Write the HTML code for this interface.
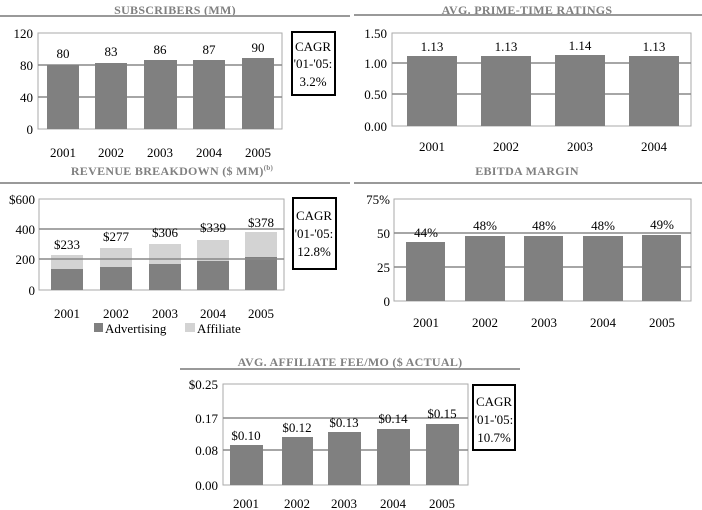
<!DOCTYPE html>
<html><head><meta charset="utf-8"><style>
html,body{margin:0;padding:0;background:#fff;}
svg{display:block;font-family:"Liberation Serif",serif;}
.t{font-size:12px;font-weight:bold;fill:#808080;text-anchor:middle;letter-spacing:0.3px}
.l{font-size:13px;fill:#000;text-anchor:middle}
.y{font-size:13px;fill:#000;text-anchor:end}
.g{stroke:#888;stroke-width:1.5}
.f{fill:none;stroke:#aaa;stroke-width:1}
.b{fill:#808080}
.a{fill:#d3d3d3}
.h{stroke:#999;stroke-width:2}
</style></head><body>
<svg width="702" height="510" viewBox="0 0 702 510">
<!-- Chart 1 -->
<text class="t" x="175" y="14">SUBSCRIBERS (MM)</text>
<line class="h" x1="0" y1="16" x2="350" y2="16"/>
<rect class="f" x="38" y="33" width="244" height="96"/>
<line class="g" x1="38" y1="65" x2="282" y2="65"/>
<line class="g" x1="38" y1="97" x2="282" y2="97"/>
<rect class="b" x="47" y="65" width="32" height="64"/>
<rect class="b" x="95" y="63" width="32" height="66"/>
<rect class="b" x="144" y="60" width="33" height="69"/>
<rect class="b" x="193" y="60" width="32" height="69"/>
<rect class="b" x="242" y="58" width="32" height="71"/>
<text class="l" x="63" y="58">80</text><text class="l" x="111" y="56">83</text><text class="l" x="160" y="54">86</text><text class="l" x="209" y="54">87</text><text class="l" x="258" y="52">90</text>
<text class="y" x="33" y="38">120</text><text class="y" x="33" y="70">80</text><text class="y" x="33" y="102">40</text><text class="y" x="33" y="134">0</text>
<text class="l" x="63" y="157">2001</text><text class="l" x="111" y="157">2002</text><text class="l" x="160" y="157">2003</text><text class="l" x="209" y="157">2004</text><text class="l" x="258" y="157">2005</text>
<rect x="292" y="32" width="43" height="63" fill="#fff" stroke="#000" stroke-width="2"/>
<text class="l" x="313" y="51">CAGR</text><text class="l" x="313" y="68">'01-'05:</text><text class="l" x="313" y="86">3.2%</text>

<!-- Chart 2 -->
<text class="t" x="527" y="14">AVG. PRIME-TIME RATINGS</text>
<line class="h" x1="354" y1="15" x2="702" y2="15"/>
<rect class="f" x="392" y="33" width="299" height="93"/>
<line class="g" x1="392" y1="63" x2="691" y2="63"/>
<line class="g" x1="392" y1="94" x2="691" y2="94"/>
<rect class="b" x="407" y="56" width="50" height="70"/>
<rect class="b" x="481" y="56" width="50" height="70"/>
<rect class="b" x="555" y="55" width="50" height="71"/>
<rect class="b" x="629" y="56" width="50" height="70"/>
<text class="l" x="432" y="51">1.13</text><text class="l" x="506" y="51">1.13</text><text class="l" x="580" y="50">1.14</text><text class="l" x="654" y="51">1.13</text>
<text class="y" x="387" y="38">1.50</text><text class="y" x="387" y="68">1.00</text><text class="y" x="387" y="99">0.50</text><text class="y" x="387" y="131">0.00</text>
<text class="l" x="432" y="151">2001</text><text class="l" x="506" y="151">2002</text><text class="l" x="580" y="151">2003</text><text class="l" x="654" y="151">2004</text>

<!-- Chart 3 -->
<text class="t" x="172" y="175">REVENUE BREAKDOWN ($ MM)<tspan font-size="7" dy="-5">(b)</tspan></text>
<line class="h" x1="0" y1="183" x2="350" y2="183"/>
<rect class="f" x="39" y="199" width="245" height="91"/>
<rect class="a" x="51" y="255" width="32" height="35"/><rect class="b" x="51" y="269" width="32" height="21"/>
<rect class="a" x="100" y="248" width="32" height="42"/><rect class="b" x="100" y="267" width="32" height="23"/>
<rect class="a" x="149" y="244" width="32" height="46"/><rect class="b" x="149" y="264" width="32" height="26"/>
<rect class="a" x="197" y="240" width="32" height="50"/><rect class="b" x="197" y="261" width="32" height="29"/>
<rect class="a" x="245" y="232" width="32" height="58"/><rect class="b" x="245" y="257" width="32" height="33"/>
<line class="g" x1="39" y1="229" x2="284" y2="229"/>
<line class="g" x1="39" y1="259" x2="284" y2="259"/>
<text class="l" x="67" y="249">$233</text><text class="l" x="116" y="241">$277</text><text class="l" x="165" y="237">$306</text><text class="l" x="213" y="232">$339</text><text class="l" x="261" y="227">$378</text>
<text class="y" x="35" y="204">$600</text><text class="y" x="35" y="234">400</text><text class="y" x="35" y="264">200</text><text class="y" x="35" y="295">0</text>
<text class="l" x="67" y="318">2001</text><text class="l" x="116" y="318">2002</text><text class="l" x="165" y="318">2003</text><text class="l" x="213" y="318">2004</text><text class="l" x="261" y="318">2005</text>
<rect class="b" x="94" y="323" width="9" height="9"/><text x="105" y="333" font-size="13">Advertising</text>
<rect class="a" x="185" y="323" width="10" height="9"/><text x="197" y="333" font-size="13">Affiliate</text>
<rect x="293" y="198" width="43" height="71" fill="#fff" stroke="#000" stroke-width="2"/>
<text class="l" x="314" y="220">CAGR</text><text class="l" x="314" y="238">'01-'05:</text><text class="l" x="314" y="256">12.8%</text>

<!-- Chart 4 -->
<text class="t" x="527" y="175">EBITDA MARGIN</text>
<line class="h" x1="354" y1="183" x2="702" y2="183"/>
<rect class="f" x="394" y="199" width="297" height="102"/>
<line class="g" x1="394" y1="233" x2="691" y2="233"/>
<line class="g" x1="394" y1="267" x2="691" y2="267"/>
<rect class="b" x="406" y="242" width="39" height="59"/>
<rect class="b" x="465" y="236" width="40" height="65"/>
<rect class="b" x="524" y="236" width="39" height="65"/>
<rect class="b" x="583" y="236" width="40" height="65"/>
<rect class="b" x="642" y="235" width="39" height="66"/>
<text class="l" x="426" y="237">44%</text><text class="l" x="485" y="230">48%</text><text class="l" x="544" y="230">48%</text><text class="l" x="603" y="230">48%</text><text class="l" x="662" y="229">49%</text>
<text class="y" x="390" y="204">75%</text><text class="y" x="390" y="238">50</text><text class="y" x="390" y="272">25</text><text class="y" x="390" y="306">0</text>
<text class="l" x="426" y="327">2001</text><text class="l" x="485" y="327">2002</text><text class="l" x="544" y="327">2003</text><text class="l" x="603" y="327">2004</text><text class="l" x="662" y="327">2005</text>

<!-- Chart 5 -->
<text class="t" x="350" y="366">AVG. AFFILIATE FEE/MO ($ ACTUAL)</text>
<line class="h" x1="180" y1="369" x2="520" y2="369"/>
<rect class="f" x="223" y="384" width="245" height="101"/>
<line class="g" x1="223" y1="418" x2="468" y2="418"/>
<line class="g" x1="223" y1="450" x2="468" y2="450"/>
<rect class="b" x="230" y="445" width="33" height="40"/>
<rect class="b" x="282" y="437" width="31" height="48"/>
<rect class="b" x="328" y="432" width="33" height="53"/>
<rect class="b" x="377" y="429" width="33" height="56"/>
<rect class="b" x="426" y="424" width="33" height="61"/>
<text class="l" x="246" y="440">$0.10</text><text class="l" x="297" y="432">$0.12</text><text class="l" x="344" y="427">$0.13</text><text class="l" x="393" y="423">$0.14</text><text class="l" x="442" y="418">$0.15</text>
<text class="y" x="218" y="389">$0.25</text><text class="y" x="218" y="423">0.17</text><text class="y" x="218" y="455">0.08</text><text class="y" x="218" y="490">0.00</text>
<text class="l" x="246" y="508">2001</text><text class="l" x="297" y="508">2002</text><text class="l" x="344" y="508">2003</text><text class="l" x="393" y="508">2004</text><text class="l" x="442" y="508">2005</text>
<rect x="473" y="385" width="42" height="65" fill="#fff" stroke="#000" stroke-width="2"/>
<text class="l" x="494" y="406">CAGR</text><text class="l" x="494" y="424">'01-'05:</text><text class="l" x="494" y="442">10.7%</text>
</svg>
</body></html>
